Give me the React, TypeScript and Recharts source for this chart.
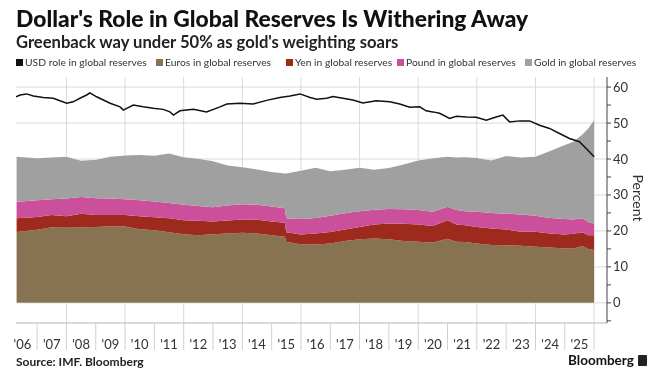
import React from 'react';
import { ComposedChart, Area, Line, XAxis, YAxis } from 'recharts';

// ---- data ----
const TIME = [2006.3, 2007.0, 2007.5, 2008.0, 2008.5, 2009.0, 2009.5, 2010.0, 2010.5, 2011.0, 2011.5, 2012.0, 2012.5, 2013.0, 2013.5, 2014.0, 2014.5, 2015.0, 2015.45, 2015.5, 2016.0, 2016.5, 2017.0, 2017.5, 2018.0, 2018.5, 2019.0, 2019.5, 2020.0, 2020.5, 2021.0, 2021.3, 2021.6, 2022.0, 2022.5, 2023.0, 2023.5, 2024.0, 2024.5, 2025.0, 2025.3, 2025.6, 2025.8, 2026.0];
const EUROS = [19.7, 20.3, 21.0, 21.1, 21.0, 21.1, 21.3, 21.2, 20.5, 20.2, 19.6, 19.1, 18.8, 19.1, 19.3, 19.5, 19.3, 18.8, 18.4, 17.0, 16.2, 16.2, 16.5, 17.2, 17.7, 17.9, 17.7, 17.2, 17.0, 16.8, 17.8, 17.0, 16.9, 16.5, 16.1, 16.0, 15.9, 15.6, 15.4, 15.1, 15.1, 15.8, 15.0, 14.7];
const YEN = [3.8, 3.6, 3.4, 3.0, 3.8, 3.3, 3.1, 3.2, 3.6, 3.6, 3.9, 3.9, 4.0, 3.5, 3.6, 3.7, 3.8, 3.8, 3.9, 2.6, 2.8, 3.1, 3.2, 3.2, 3.4, 3.9, 4.4, 4.8, 4.8, 4.6, 5.2, 4.8, 4.7, 4.6, 4.6, 4.4, 3.9, 4.2, 3.9, 3.9, 4.1, 3.8, 3.8, 4.1];
const POUND = [4.6, 4.6, 4.4, 4.9, 4.6, 4.7, 4.6, 4.4, 4.4, 4.4, 4.3, 4.3, 4.1, 4.0, 4.2, 4.2, 4.2, 4.2, 4.0, 3.9, 4.3, 4.3, 4.5, 4.5, 4.4, 4.1, 4.0, 4.0, 4.0, 3.9, 3.7, 4.0, 3.9, 4.2, 4.3, 4.4, 4.8, 4.4, 4.3, 4.3, 4.0, 3.9, 3.7, 3.2];
const GOLD = [12.5, 11.7, 11.6, 11.6, 10.1, 10.7, 11.6, 12.2, 12.6, 12.7, 13.7, 13.2, 13.2, 12.8, 11.1, 10.3, 9.8, 9.6, 9.7, 12.5, 13.4, 14.0, 12.4, 12.1, 12.1, 11.1, 11.4, 12.5, 13.8, 14.9, 13.9, 14.6, 15.0, 15.0, 14.6, 16.0, 15.8, 16.4, 18.6, 20.6, 21.6, 23.3, 26.0, 28.8];

const USD_TIME = [2006.28, 2006.42, 2006.64, 2006.87, 2007.21, 2007.55, 2007.78, 2008.01, 2008.23, 2008.46, 2008.69, 2008.8, 2009.03, 2009.26, 2009.49, 2009.83, 2009.94, 2010.28, 2010.62, 2010.96, 2011.3, 2011.53, 2011.65, 2011.87, 2012.33, 2012.78, 2013.24, 2013.47, 2013.92, 2014.37, 2014.83, 2015.28, 2015.63, 2015.97, 2016.31, 2016.54, 2016.88, 2017.09, 2017.43, 2017.77, 2018.11, 2018.57, 2019.03, 2019.37, 2019.71, 2020.05, 2020.27, 2020.5, 2020.73, 2021.07, 2021.3, 2021.64, 2021.98, 2022.32, 2022.66, 2022.89, 2023.12, 2023.46, 2023.8, 2024.14, 2024.48, 2024.82, 2025.16, 2025.5, 2025.73, 2026.0];
const USD = [57.3, 57.8, 58.1, 57.5, 57.1, 56.9, 56.2, 55.5, 55.9, 56.9, 57.8, 58.4, 57.3, 56.4, 55.5, 54.5, 53.6, 55.0, 54.5, 54.1, 53.8, 53.1, 52.2, 53.4, 53.8, 53.1, 54.5, 55.3, 55.5, 55.3, 56.3, 57.1, 57.5, 58.1, 57.1, 56.6, 56.9, 57.4, 56.9, 56.4, 55.6, 56.2, 55.9, 55.3, 54.4, 54.5, 53.4, 53.1, 52.7, 51.3, 51.9, 51.7, 51.6, 50.8, 51.7, 52.2, 50.3, 50.6, 50.6, 49.4, 48.5, 47.1, 45.7, 44.8, 42.9, 40.6];

const YEAR_TICKS = [2007, 2008, 2009, 2010, 2011, 2012, 2013, 2014, 2015, 2016, 2017, 2018, 2019, 2020, 2021, 2022, 2023, 2024, 2025, 2026];
const YEAR_LABELS = ["'06", "'07", "'08", "'09", "'10", "'11", "'12", "'13", "'14", "'15", "'16", "'17", "'18", "'19", "'20", "'21", "'22", "'23", "'24", "'25"];
const GRID_X = [2008, 2010, 2012, 2014, 2016, 2018, 2020, 2022, 2024, 2026];
const GRID_Y = [0, 10, 20, 30, 40, 50, 60];
const Y_TICKS = [-5, 0, 5, 10, 15, 20, 25, 30, 35, 40, 45, 50, 55, 60];
const Y_LABELS = ['0', '10', '20', '30', '40', '50', '60'];

const LEGEND = [
  { label: 'USD role in global reserves', color: '#111111', left: 16 },
  { label: 'Euros in global reserves', color: '#877352', left: 156 },
  { label: 'Yen in global reserves', color: '#9e2a1e', left: 286 },
  { label: 'Pound in global reserves', color: '#cc4f9c', left: 397 },
  { label: 'Gold in global reserves', color: '#a0a0a0', left: 525 },
];

const COLORS = { euros: '#877352', yen: '#9e2a1e', pound: '#cc4f9c', gold: '#a0a0a0', usd: '#111111' };
const GRID_COLOR = '#dadada';

// ---- layout ----
const W = 666;
const H = 390;
const X_DOMAIN: [number, number] = [2006.28, 2026.44];
const Y_DOMAIN: [number, number] = [-5.6, 62.8];
const MARGIN = { top: 77, right: 0, bottom: 37, left: 16 };
const Y_AXIS_W = 59;
const PLOT_W = W - MARGIN.left - MARGIN.right - Y_AXIS_W;
const HALF_YEAR_PX = PLOT_W / (X_DOMAIN[1] - X_DOMAIN[0]) / 2;
const FONT = 'Lato, "DejaVu Sans", sans-serif';

const stackData = TIME.map((t, i) => ({ t, euros: EUROS[i], yen: YEN[i], pound: POUND[i], gold: GOLD[i] }));
const usdData = USD_TIME.map((t, i) => ({ t, usd: USD[i] }));
// grid lines drawn as two-point series through the chart's own scales
const gridXData = GRID_X.map((v) => [{ t: v, g: Y_DOMAIN[0] }, { t: v, g: Y_DOMAIN[1] }]);
const gridYData = GRID_Y.map((v) => [{ t: X_DOMAIN[0], g: v }, { t: X_DOMAIN[1], g: v }]);

const YearTick = (props: any) => {
  const { x, y, payload } = props;
  const idx = YEAR_TICKS.indexOf(payload.value);
  const label = idx >= 0 ? YEAR_LABELS[idx] : '';
  return (
    <text x={x - HALF_YEAR_PX} y={y - 3} textAnchor="middle" fontSize={13} fill="#333" fontFamily={FONT}>
      {label}
    </text>
  );
};

const ValueTick = (props: any) => {
  const { x, y, payload } = props;
  const s = String(payload.value);
  if (!Y_LABELS.includes(s)) return null;
  return (
    <text x={x} y={y} dy={4.5} textAnchor="start" fontSize={13} fill="#333" fontFamily={FONT}>
      {s}
    </text>
  );
};

export default function App() {
  return (
    <div style={{ position: 'absolute', left: 0, top: 0, width: W, height: H, background: '#fff', fontFamily: FONT, overflow: 'hidden' }}>
      <style>{'.gridline, .gridline path { mix-blend-mode: darken; }'}</style>
      <div style={{ position: 'absolute', left: 0, top: 0 }}>
        <ComposedChart width={W} height={H} data={stackData} margin={MARGIN}>
          <XAxis
            dataKey="t"
            type="number"
            domain={X_DOMAIN}
            ticks={YEAR_TICKS}
            interval={0}
            allowDataOverflow
            height={30}
            tickSize={27}
            tickLine={{ stroke: '#d0d0d0' }}
            axisLine={{ stroke: '#b5b5b5' }}
            tick={<YearTick />}
          />
          <YAxis
            orientation="right"
            type="number"
            domain={Y_DOMAIN}
            ticks={Y_TICKS}
            interval={0}
            allowDataOverflow
            width={Y_AXIS_W}
            tickSize={4}
            tickMargin={2}
            tickLine={{ stroke: '#444' }}
            axisLine={{ stroke: '#444' }}
            tick={<ValueTick />}
          />
          <Area dataKey="euros" stackId="s" type="linear" fill={COLORS.euros} stroke="none" fillOpacity={1} isAnimationActive={false} dot={false} activeDot={false} />
          <Area dataKey="yen" stackId="s" type="linear" fill={COLORS.yen} stroke="none" fillOpacity={1} isAnimationActive={false} dot={false} activeDot={false} />
          <Area dataKey="pound" stackId="s" type="linear" fill={COLORS.pound} stroke="none" fillOpacity={1} isAnimationActive={false} dot={false} activeDot={false} />
          <Area dataKey="gold" stackId="s" type="linear" fill={COLORS.gold} stroke="none" fillOpacity={1} isAnimationActive={false} dot={false} activeDot={false} />
          {gridXData.map((d, i) => (
            <Line key={'gx' + i} className="gridline" style={{ mixBlendMode: 'darken' }} data={d} dataKey="g" type="linear" stroke={GRID_COLOR} strokeWidth={1} dot={false} activeDot={false} isAnimationActive={false} legendType="none" />
          ))}
          {gridYData.map((d, i) => (
            <Line key={'gy' + i} className="gridline" style={{ mixBlendMode: 'darken' }} data={d} dataKey="g" type="linear" stroke={GRID_COLOR} strokeWidth={1} dot={false} activeDot={false} isAnimationActive={false} legendType="none" />
          ))}
          <Line data={usdData} dataKey="usd" type="linear" stroke={COLORS.usd} strokeWidth={1.5} dot={false} activeDot={false} isAnimationActive={false} />
        </ComposedChart>
      </div>
      <div style={{ position: 'absolute', left: 16, top: 4, fontSize: 22.8, fontWeight: 900, color: '#111', whiteSpace: 'nowrap' }}>
        Dollar's Role in Global Reserves Is Withering Away
      </div>
      <div style={{ position: 'absolute', left: 16, top: 32, fontSize: 16.6, fontWeight: 700, color: '#222', whiteSpace: 'nowrap' }}>
        Greenback way under 50% as gold's weighting soars
      </div>
      {LEGEND.map((l) => (
        <div key={l.label} style={{ position: 'absolute', left: l.left, top: 55, height: 14, display: 'flex', alignItems: 'center', fontSize: 10.3, color: '#333', whiteSpace: 'nowrap' }}>
          <span style={{ display: 'inline-block', width: 7, height: 7, background: l.color, marginRight: 2 }} />
          {l.label}
        </div>
      ))}
      <div style={{ position: 'absolute', left: 638, top: 198, transform: 'translate(-50%, -50%) rotate(90deg)', fontSize: 14, color: '#333', whiteSpace: 'nowrap' }}>
        Percent
      </div>
      <div style={{ position: 'absolute', left: 16, top: 354, fontSize: 12, fontWeight: 700, color: '#222', whiteSpace: 'nowrap' }}>
        Source: IMF. Bloomberg
      </div>
      <div style={{ position: 'absolute', left: 568, top: 352, fontSize: 13.5, fontWeight: 700, color: '#111', whiteSpace: 'nowrap', display: 'flex', alignItems: 'center' }}>
        Bloomberg
        <span style={{ display: 'inline-block', width: 9, height: 11, background: '#222', marginLeft: 4, borderRadius: 1 }} />
      </div>
    </div>
  );
}
